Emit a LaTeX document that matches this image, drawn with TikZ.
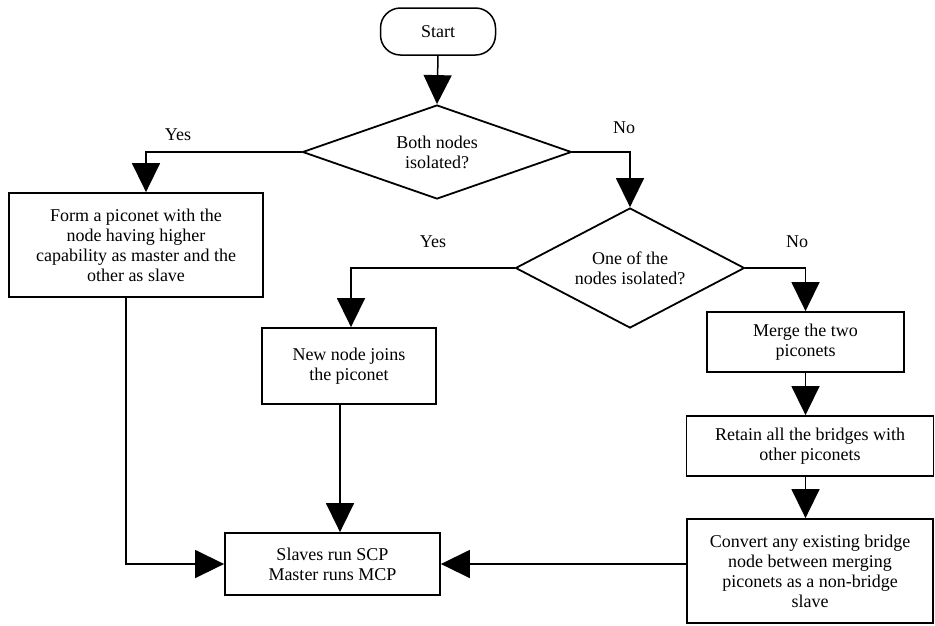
\documentclass[tikz,border=0pt]{standalone}
\usepackage{fontspec}
\setmainfont{Liberation Serif}
\usetikzlibrary{arrows.meta,shapes.geometric}
\begin{document}
\begin{tikzpicture}[x=1pt,y=-1pt,
  every node/.style={font=\fontsize{18}{20}\selectfont, align=center, inner sep=0pt},
  box/.style={draw, line width=1.8pt, rectangle},
  decision/.style={draw, line width=1.8pt, diamond},
  term/.style={draw, line width=1.5pt, rounded corners=20pt},
  flow/.style={line width=1.5pt, -{Triangle[length=29pt,width=28pt]}},
  lbl/.style={font=\fontsize{18}{20}\selectfont}]
\useasboundingbox (0,0) rectangle (935,625);
\fill[white] (0,0) rectangle (935,625);

% terminal and decisions
\node[term, minimum width=115pt, minimum height=47pt] (start) at (438,31.5) {Start};
\node[decision, shape aspect=2.86, minimum width=269pt, minimum height=94pt] (d1) at (437,152) {Both nodes\\isolated?};
\node[decision, shape aspect=1.9, minimum width=229pt, minimum height=120pt] (d2) at (630,268) {One of the\\nodes isolated?};

% process boxes
\node[box, minimum width=254pt, minimum height=104pt] (form) at (136,245)
  {Form a piconet with the\\node having higher\\capability as master and the\\other as slave};
\node[box, minimum width=174pt, minimum height=76pt] (join) at (349,366) {New node joins\\the piconet};
\node[box, minimum width=197pt, minimum height=60pt] (merge) at (805.5,342) {Merge the two\\piconets};
\node[box, minimum width=247pt, minimum height=60pt] (retain) at (810,446) {Retain all the bridges with\\other piconets};
\node[box, minimum width=246pt, minimum height=104pt] (convert) at (810,571)
  {Convert any existing bridge\\node between merging\\piconets as a non-bridge\\slave};
\node[box, minimum width=215pt, minimum height=62pt] (run) at (332.5,564) {Slaves run SCP\\Master runs MCP};

% branch labels
\node[lbl] (y1) at (178,135) {Yes};
\node[lbl] (n1) at (624,128) {No};
\node[lbl] (y2) at (433,242) {Yes};
\node[lbl] (n2) at (797,242) {No};

% connectors
\draw[flow] (start.south) -- (d1.north);
\draw[flow] (d1.west) -| ([xshift=10pt]form.north);
\draw[flow] (d1.east) -| (d2.north);
\draw[flow] (d2.west) -| ([xshift=2pt]join.north);
\draw[flow] (d2.east) -| (merge.north);
\draw[flow] (merge.south) -- (merge.south |- retain.north);
\draw[flow] (merge.south |- retain.south) -- (merge.south |- convert.north);
\draw[flow] ([xshift=-10pt]form.south) |- (run.west);
\draw[flow] ([xshift=-9pt]join.south) -- ([xshift=-9pt]join.south |- run.north);
\draw[flow] (convert.west |- run.east) -- (run.east);
\end{tikzpicture}
\end{document}
